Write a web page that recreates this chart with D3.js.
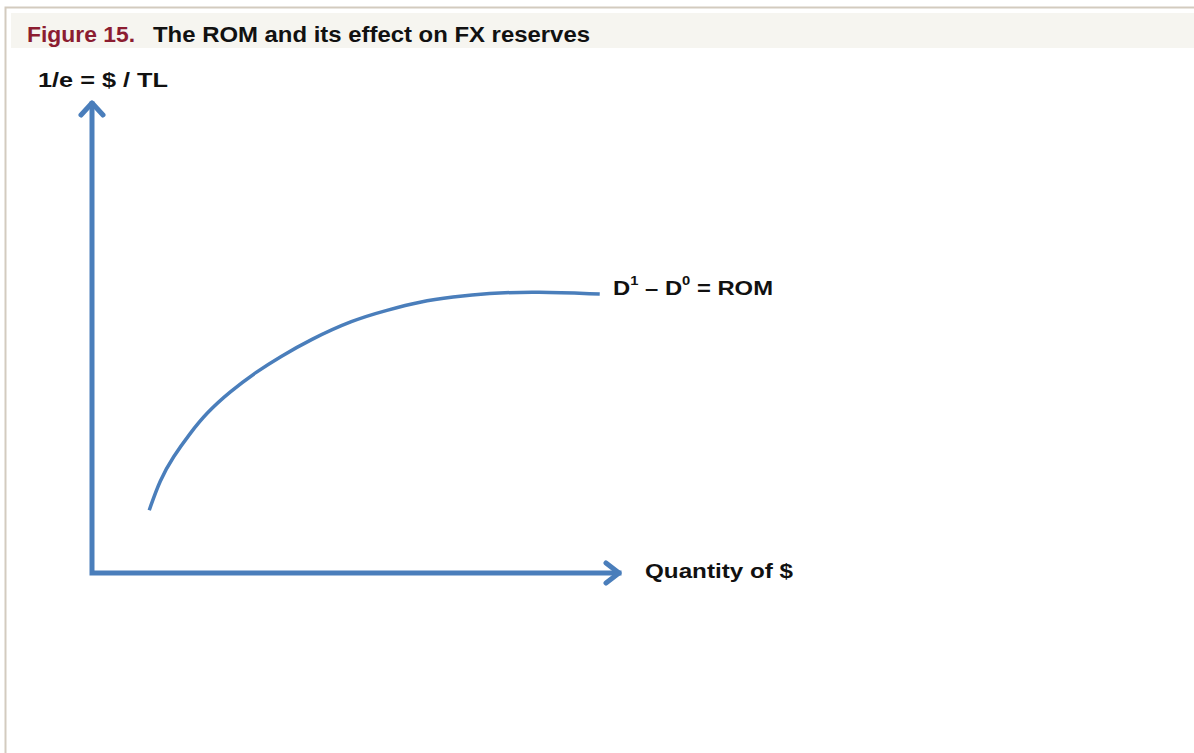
<!DOCTYPE html>
<meta charset="utf-8">
<style>
body{ margin:0; background:#fff; }
text{ font-family: "Liberation Sans", Arial, sans-serif; font-weight:bold; }
</style>
<svg id="chart" width="1194" height="753"></svg>
<script src="https://d3js.org/d3.v7.min.js"></script>
<script>

// curve of D1 - D0 = ROM (axis units 0..10)
var curveX = [1.08, 1.28, 1.53, 1.85, 2.16, 2.60, 3.11, 3.55, 4.11, 4.92, 5.57, 6.19, 6.81, 7.45, 8.40, 9.58];
var curveY = [1.33, 1.97, 2.46, 2.96, 3.39, 3.84, 4.27, 4.58, 4.94, 5.36, 5.57, 5.75, 5.85, 5.93, 5.96, 5.91];
var titleNum = "Figure 15.";
var titleText = "The ROM and its effect on FX reserves";
var yLabel = "1/e = $ / TL";
var xLabel = "Quantity of $";

var svg = d3.select("#chart"),
    width = +svg.attr("width"),
    height = +svg.attr("height");
var blue = "#4a7ebb";

// frame + title band
svg.append("path")
  .attr("d","M5.5,"+height+" L5.5,7.5 L"+width+",7.5")
  .attr("fill","none")
  .attr("stroke","#d3cbbf")
  .attr("stroke-width",2);
svg.append("rect")
  .attr("x",11).attr("y",13)
  .attr("width",width-11).attr("height",35)
  .attr("fill","#f6f5f0");
svg.append("text")
  .attr("x",27).attr("y",42)
  .attr("fill","#8c1d31")
  .attr("textLength",108).attr("lengthAdjust","spacingAndGlyphs")
  .style("font-size","22px")
  .text(titleNum);
svg.append("text")
  .attr("x",153).attr("y",42)
  .attr("fill","#111")
  .attr("textLength",437).attr("lengthAdjust","spacingAndGlyphs")
  .style("font-size","22px")
  .text(titleText);

var x = d3.scaleLinear().domain([0,10]).range([92,622]);
var y = d3.scaleLinear().domain([0,10]).range([573,101]);

// axes as arrows
svg.append("path")
  .attr("d","M"+x(0)+","+y(0)+" L"+x(0)+","+(y(10)+3)+
            " M"+x(0)+","+y(0)+" L"+(x(10)-3)+","+y(0))
  .attr("fill","none")
  .attr("stroke",blue)
  .attr("stroke-width",5)
  .attr("stroke-linecap","square");
svg.append("path")
  .attr("d","M"+(x(0)-11)+","+(y(10)+14)+" L"+x(0)+","+(y(10)+2)+" L"+(x(0)+11)+","+(y(10)+14)+
            " M"+(x(10)-16)+","+(y(0)-10)+" L"+(x(10)-3)+","+y(0)+" L"+(x(10)-16)+","+(y(0)+10))
  .attr("fill","none")
  .attr("stroke",blue)
  .attr("stroke-width",5)
  .attr("stroke-linecap","round")
  .attr("stroke-linejoin","round");

var pts = curveX.map(function(d,i){ return [d, curveY[i]]; });
var line = d3.line()
  .x(function(d){ return x(d[0]); })
  .y(function(d){ return y(d[1]); })
  .curve(d3.curveBasis);
svg.append("path")
  .datum(pts)
  .attr("d",line)
  .attr("fill","none")
  .attr("stroke",blue)
  .attr("stroke-width",3.5);

svg.append("text")
  .attr("x",38).attr("y",87)
  .attr("fill","#111")
  .attr("textLength",130).attr("lengthAdjust","spacingAndGlyphs")
  .style("font-size","20px")
  .text(yLabel);

var rom = svg.append("text")
  .attr("x",613).attr("y",295)
  .attr("fill","#111")
  .attr("textLength",160).attr("lengthAdjust","spacingAndGlyphs")
  .style("font-size","21px");
rom.append("tspan").text("D");
rom.append("tspan").attr("dy",-10).style("font-size","13px").text("1");
rom.append("tspan").attr("dy",10).text(" – D");
rom.append("tspan").attr("dy",-10).style("font-size","13px").text("0");
rom.append("tspan").attr("dy",10).text(" = ROM");

svg.append("text")
  .attr("x",645).attr("y",578)
  .attr("fill","#111")
  .attr("textLength",148).attr("lengthAdjust","spacingAndGlyphs")
  .style("font-size","21px")
  .text(xLabel);

</script>
